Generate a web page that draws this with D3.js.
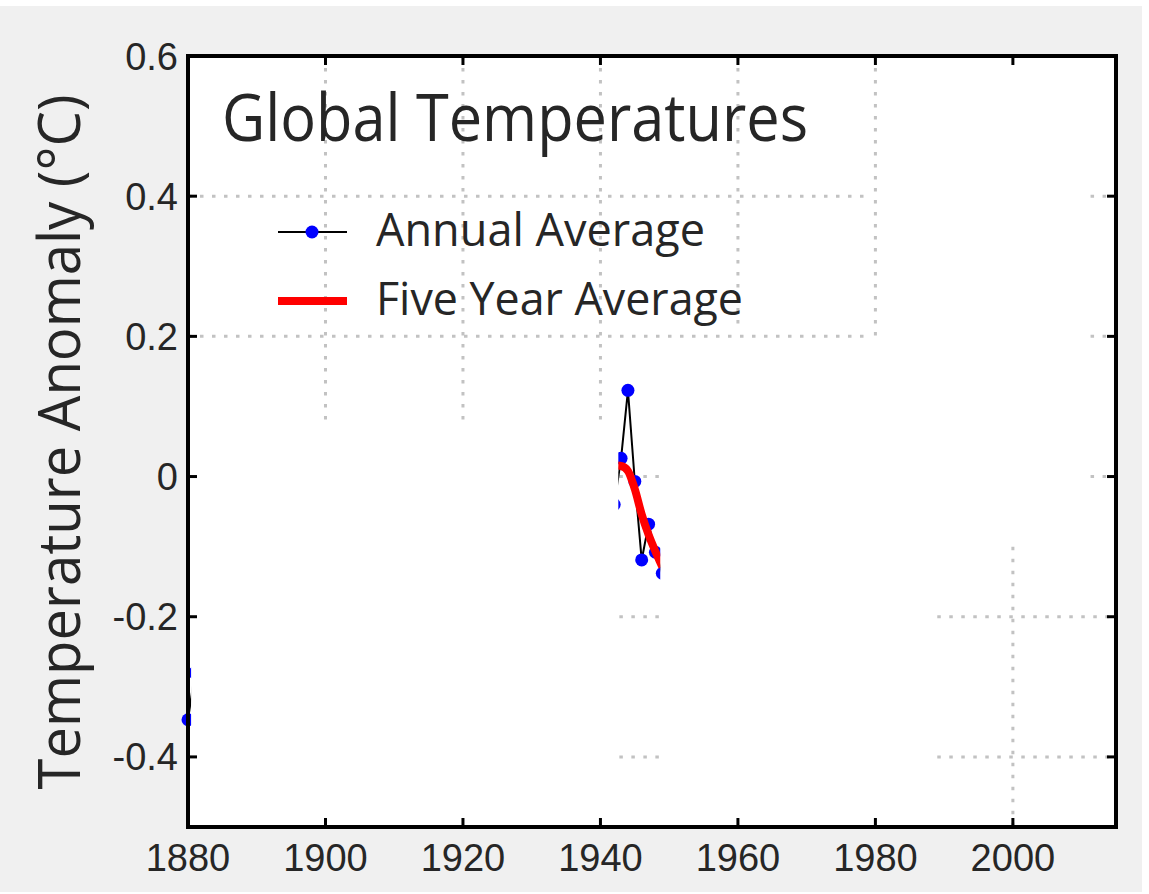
<!DOCTYPE html>
<html>
<head>
<meta charset="utf-8">
<script src="https://cdn.jsdelivr.net/npm/d3@7"></script>
<style>
  html, body { margin: 0; padding: 0; background: #ffffff; }
  svg { display: block; }
</style>
</head>
<body>
<svg id="chart" width="1149" height="894"></svg>
<script>
// ---------------- data ----------------
const titleText = "Global Temperatures";
const yLabelText = "Temperature Anomaly (°C)";
const legendLabels = ["Annual Average", "Five Year Average"];

const xTicks = [1880, 1900, 1920, 1940, 1960, 1980, 2000];
const yTicks = [-0.4, -0.2, 0, 0.2, 0.4, 0.6];
const yTickLabels = ["-0.4", "-0.2", "0", "0.2", "0.4", "0.6"];

// annual average (visible years of this frame)
const annualYears  = [1880, 1881, 1942, 1943, 1944, 1945, 1946, 1947, 1948, 1949];
const annualValues = [-0.347, -0.28, -0.04, 0.026, 0.123, -0.007, -0.119, -0.068, -0.108, -0.138];

// five year average
const fiveYears  = [1942, 1943, 1944, 1945, 1946, 1947, 1948, 1949];
const fiveValues = [0.016, 0.015, 0.008, -0.018, -0.054, -0.083, -0.107, -0.129];

// regions of the frame already revealed (year ranges)
const revealYears = [[1878.9, 1880.45], [1942.6, 1948.7]];

// partially revealed grid lines (data units)
const gridHoriz = [
  { v: 0.4,  ranges: [[1880, 1979], [2011.3, 2015]] },
  { v: 0.2,  ranges: [[1880, 1979], [2011.3, 2015]] },
  { v: 0,    ranges: [[1942.75, 1948.7], [2011.3, 2015]] },
  { v: -0.2, ranges: [[1942.75, 1948.7], [1989, 2015]] },
  { v: -0.4, ranges: [[1942.75, 1948.7], [1989, 2015]] }
];
const gridVert = [
  { year: 1900, range: [0.07, 0.6] },
  { year: 1920, range: [0.07, 0.6] },
  { year: 1940, range: [0.07, 0.6] },
  { year: 1960, range: [0.21, 0.6] },
  { year: 1980, range: [0.2, 0.6] },
  { year: 2000, range: [-0.5, -0.1] }
];

// ---------------- drawing ----------------
const svg = d3.select("#chart");
const plot = { left: 188, right: 1116, top: 56, bottom: 827 };

const x = d3.scaleLinear().domain([1880, 2015]).range([plot.left, plot.right]);
const y = d3.scaleLinear().domain([-0.5, 0.6]).range([plot.bottom, plot.top]);

const textColor = "#262626";

// figure background
svg.append("rect").attr("x", 0).attr("y", 6).attr("width", 1142).attr("height", 886).attr("fill", "#f0f0f0");
// axes background
svg.append("rect").attr("x", plot.left).attr("y", plot.top)
  .attr("width", plot.right - plot.left).attr("height", plot.bottom - plot.top).attr("fill", "#ffffff");

// grid
const gridG = svg.append("g").attr("stroke", "#c2c2c2").attr("stroke-width", 3).attr("stroke-dasharray", "3.5,8.5").attr("fill", "none");
gridHoriz.forEach(g => {
  g.ranges.forEach(r => {
    gridG.append("line").attr("x1", x(r[0])).attr("x2", x(r[1])).attr("y1", y(g.v)).attr("y2", y(g.v));
  });
});
gridVert.forEach(g => {
  gridG.append("line").attr("x1", x(g.year)).attr("x2", x(g.year)).attr("y1", y(g.range[1])).attr("y2", y(g.range[0]));
});

// clip to revealed regions
const clip = svg.append("defs").append("clipPath").attr("id", "reveal");
revealYears.forEach(r => {
  clip.append("rect").attr("x", x(r[0])).attr("y", plot.top - 20)
    .attr("width", x(r[1]) - x(r[0])).attr("height", plot.bottom - plot.top + 40);
});

const dataG = svg.append("g").attr("clip-path", "url(#reveal)");

const annual = annualYears.map((yr, i) => ({ year: yr, value: annualValues[i] }));
const five = fiveYears.map((yr, i) => ({ year: yr, value: fiveValues[i] }));

// split annual into consecutive runs
const runs = [];
annual.forEach((d, i) => {
  if (i === 0 || d.year - annual[i - 1].year > 1) runs.push([]);
  runs[runs.length - 1].push(d);
});

const line = d3.line().x(d => x(d.year)).y(d => y(d.value));
runs.forEach(run => {
  dataG.append("path").datum(run).attr("d", line)
    .attr("fill", "none").attr("stroke", "#000000").attr("stroke-width", 2);
});
dataG.selectAll("circle.annual").data(annual).enter().append("circle")
  .attr("class", "annual")
  .attr("cx", d => x(d.year)).attr("cy", d => y(d.value)).attr("r", 6.5).attr("fill", "#0000ff");

const smooth = d3.line().x(d => x(d.year)).y(d => y(d.value)).curve(d3.curveMonotoneX);
dataG.append("path").datum(five).attr("d", smooth)
  .attr("fill", "none").attr("stroke", "#ff0000").attr("stroke-width", 8).attr("stroke-linejoin", "round");

// axes box with inward ticks
const axG = svg.append("g");
const tickLen = 9;
xTicks.forEach(t => {
  axG.append("line").attr("x1", x(t)).attr("x2", x(t)).attr("y1", plot.bottom).attr("y2", plot.bottom - tickLen)
    .attr("stroke", "#000").attr("stroke-width", 3);
  axG.append("line").attr("x1", x(t)).attr("x2", x(t)).attr("y1", plot.top).attr("y2", plot.top + tickLen)
    .attr("stroke", "#000").attr("stroke-width", 3);
});
yTicks.forEach(t => {
  axG.append("line").attr("x1", plot.left).attr("x2", plot.left + tickLen).attr("y1", y(t)).attr("y2", y(t))
    .attr("stroke", "#000").attr("stroke-width", 3);
  axG.append("line").attr("x1", plot.right).attr("x2", plot.right - tickLen).attr("y1", y(t)).attr("y2", y(t))
    .attr("stroke", "#000").attr("stroke-width", 3);
});
axG.append("rect").attr("x", plot.left).attr("y", plot.top)
  .attr("width", plot.right - plot.left).attr("height", plot.bottom - plot.top)
  .attr("fill", "none").attr("stroke", "#000").attr("stroke-width", 4);

// tick labels
const tickFont = "'Liberation Sans', Arial, sans-serif";
svg.append("g").selectAll("text").data(xTicks).enter().append("text")
  .attr("x", d => x(d)).attr("y", 871)
  .attr("text-anchor", "middle").attr("font-family", tickFont).attr("font-size", 38)
  .attr("fill", textColor).text(d => d);
svg.append("g").selectAll("text").data(yTicks).enter().append("text")
  .attr("x", 178).attr("y", d => y(d) + 13.5)
  .attr("text-anchor", "end").attr("font-family", tickFont).attr("font-size", 38)
  .attr("fill", textColor).text((d, i) => yTickLabels[i]);

// y label
const labelFont = "'Open Sans', 'Noto Sans', sans-serif";
svg.append("text")
  .attr("transform", "translate(80,442) rotate(-90)")
  .attr("text-anchor", "middle").attr("font-family", labelFont).attr("font-size", 58)
  .attr("textLength", 695).attr("lengthAdjust", "spacingAndGlyphs")
  .attr("fill", textColor).text(yLabelText);

// title
svg.append("text").attr("x", 222).attr("y", 141)
  .attr("font-family", labelFont).attr("font-size", 65)
  .attr("textLength", 586).attr("lengthAdjust", "spacingAndGlyphs")
  .attr("fill", textColor).text(titleText);

// legend
const lg = svg.append("g");
lg.append("line").attr("x1", 278).attr("x2", 347).attr("y1", 232).attr("y2", 232).attr("stroke", "#000").attr("stroke-width", 2);
lg.append("circle").attr("cx", 312).attr("cy", 232).attr("r", 6.5).attr("fill", "#0000ff");
lg.append("line").attr("x1", 278).attr("x2", 347).attr("y1", 301).attr("y2", 301).attr("stroke", "#ff0000").attr("stroke-width", 8);
lg.append("text").attr("x", 376).attr("y", 246).attr("font-family", labelFont).attr("font-size", 46)
  .attr("textLength", 329).attr("lengthAdjust", "spacingAndGlyphs")
  .attr("fill", textColor).text(legendLabels[0]);
lg.append("text").attr("x", 376).attr("y", 315).attr("font-family", labelFont).attr("font-size", 46)
  .attr("textLength", 367).attr("lengthAdjust", "spacingAndGlyphs")
  .attr("fill", textColor).text(legendLabels[1]);
</script>
</body>
</html>
